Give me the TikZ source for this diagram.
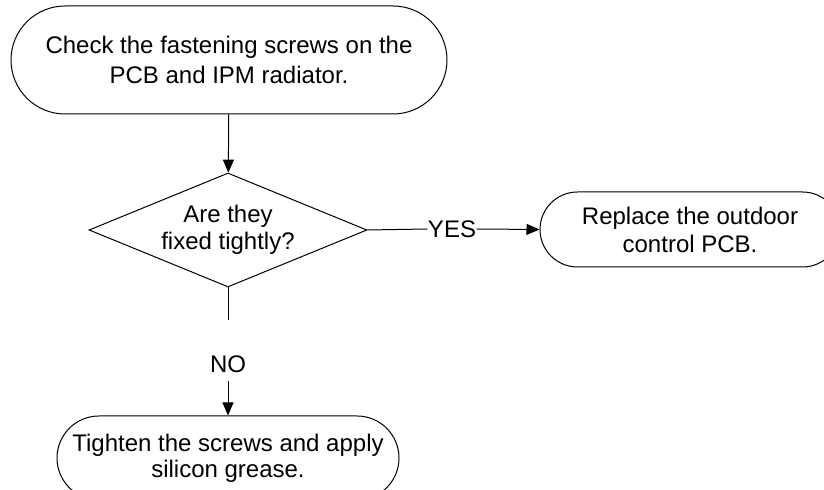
\documentclass[tikz,border=0pt]{standalone}
\usepackage{fontspec}
\setmainfont{Liberation Sans}
\usetikzlibrary{shapes.misc,shapes.geometric,arrows.meta}
\begin{document}
\begin{tikzpicture}[x=0.5pt,y=-0.5pt,line width=0.5pt,
  term/.style={rounded rectangle,draw,align=center,inner sep=0pt},
  decide/.style={diamond,draw,align=center,inner sep=0pt,aspect=2.44},
  lbl/.style={inner sep=0pt},
  flow/.style={-{Triangle[length=6.5pt,width=5.5pt]}},
  font=\fontsize{12}{15}\selectfont]
\clip (0,0) rectangle (824,490);
\node[term,minimum width=218pt,minimum height=54pt] (check) at (229,60)
  {Check the fastening screws on the\\PCB and IPM radiator.};
\node[decide,minimum width=139pt,minimum height=57pt,font=\fontsize{12}{13.5}\selectfont] (tight) at (228,230)
  {Are they\\fixed tightly?};
\node[lbl] (yes) at (452,229) {YES};
\node[term,minimum width=150pt,minimum height=37.5pt,font=\fontsize{12}{14}\selectfont] (pcb) at (690,229.5)
  {Replace the outdoor\\control PCB.};
\coordinate (stub) at (228,320);
\node[lbl] (no) at (228,364) {NO};
\node[term,minimum width=171pt,minimum height=42pt,font=\fontsize{12}{13}\selectfont] (grease) at (228,458)
  {Tighten the screws and apply\\silicon grease.};
\draw[flow] (check) -- (tight);
\draw (tight.east) -- (yes.west);
\draw[flow] (yes.east) -- (pcb.west);
\draw (tight.south) -- (stub);
\draw[flow] ([yshift=-4pt]no.south) -- (grease.north);
\end{tikzpicture}
\end{document}
